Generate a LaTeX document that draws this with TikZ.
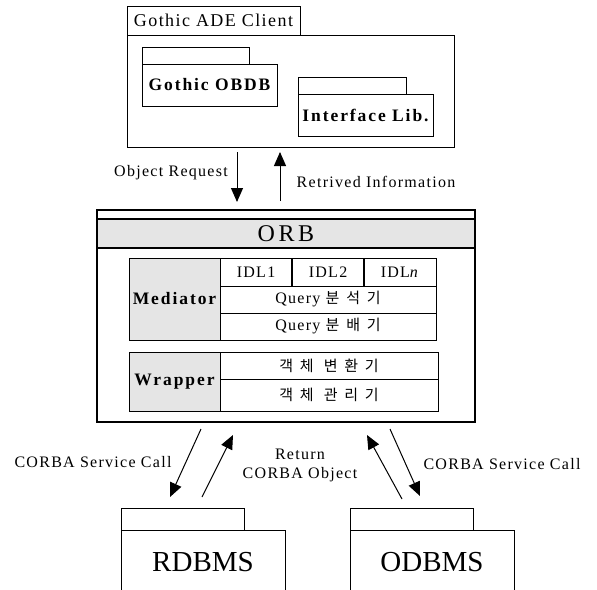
\documentclass[tikz,border=0pt]{standalone}
\usepackage{fontspec}
\setmainfont{Liberation Serif}
\newfontfamily\lsf{Liberation Serif}[LetterSpace=8]
\newfontfamily\lsb{Liberation Serif}[LetterSpace=11,BoldFont={Liberation Serif Bold}]
\newfontfamily\orbf{Liberation Serif}[LetterSpace=15]
\newfontfamily\krf{Noto Sans CJK KR}[LetterSpace=45]
\usetikzlibrary{arrows.meta}
\tikzset{
  box/.style={draw, line width=1pt, inner sep=0pt, outer sep=0pt, anchor=north west},
  lbl/.style={inner sep=0pt, font=\lsf\fontsize{16}{19}\selectfont},
  blbl/.style={font=\lsb\bfseries\fontsize{17.5}{20}\selectfont},
  big/.style={font=\fontsize{29}{32}\selectfont},
  kor/.style={font=\lsf\fontsize{16}{19}\selectfont},
  graybox/.style={box, fill=black!10},
  arr/.style={line width=1pt, -{Triangle[length=14pt,width=12pt]}}
}
\begin{document}
\begin{tikzpicture}[x=1pt,y=-1pt]
\useasboundingbox (0,0) rectangle (597,589);
% client package
\node[box, minimum width=173pt, minimum height=29pt, font=\lsf\fontsize{18}{20}\selectfont] (ctab) at (127,6) {Gothic ADE Client};
\node[box, minimum width=327pt, minimum height=112pt] (cbody) at (127,35) {};
\node[box, minimum width=107pt, minimum height=17pt] (otab) at (142,47) {};
\node[box, minimum width=135pt, minimum height=42pt, blbl] (obody) at (142,64) {Gothic OBDB};
\node[box, minimum width=108pt, minimum height=17pt] (itab) at (298,77) {};
\node[box, minimum width=135pt, minimum height=42pt, blbl] (ibody) at (298,94) {Interface Lib.};
% ORB
\node[box, line width=1.1pt, minimum width=378pt, minimum height=212pt] (orb) at (97,210) {};
\node[graybox, line width=1.1pt, minimum width=378pt, minimum height=29pt, font=\orbf\fontsize{24}{26}\selectfont] (orbband) at (97,219) {ORB};
% Mediator
\node[graybox, minimum width=91pt, minimum height=82pt, blbl] (med) at (129,258) {Mediator};
\node[box, minimum width=72pt, minimum height=28pt, lbl] (idl1) at (220,258) {IDL1};
\node[box, minimum width=72pt, minimum height=28pt, lbl] (idl2) at (292,258) {IDL2};
\node[box, minimum width=72pt, minimum height=28pt, lbl] (idln) at (364,258) {IDL\textit{n}};
\draw[line width=2pt] (idl1.north east) -- (idl1.south east);
\draw[line width=2pt] (idl2.north east) -- (idl2.south east);
\node[box, minimum width=216pt, minimum height=27pt, kor] (q1) at (220,286) {Query {\krf\fontsize{15}{18}\selectfont 분석기}};
\node[box, minimum width=216pt, minimum height=27pt, kor] (q2) at (220,313) {Query {\krf\fontsize{15}{18}\selectfont 분배기}};
% Wrapper
\node[graybox, minimum width=91pt, minimum height=59pt, blbl] (wrp) at (129,352) {Wrapper};
\node[box, minimum width=218pt, minimum height=27pt, kor] (w1) at (220,352) {{\krf\fontsize{15}{18}\selectfont 객체 변환기}};
\node[box, minimum width=218pt, minimum height=32pt, kor] (w2) at (220,379) {{\krf\fontsize{15}{18}\selectfont 객체 관리기}};
% DBMS packages
\node[box, minimum width=123pt, minimum height=22pt] (rtab) at (121,508) {};
\node[box, minimum width=164pt, minimum height=64pt, big] (rdb) at (121,530) {RDBMS};
\node[box, minimum width=123pt, minimum height=22pt] (otab2) at (350,508) {};
\node[box, minimum width=164pt, minimum height=64pt, big] (odb) at (350,530) {ODBMS};
% top arrows
\coordinate (t1s) at (237,152); \coordinate (t1e) at (237,202);
\coordinate (t2s) at (280,201); \coordinate (t2e) at (280,152);
\draw[arr] (t1s) -- (t1e);
\draw[arr] (t2s) -- (t2e);
\node[lbl] (objreq) at (171,173) {Object Request};
\node[lbl] (retinf) at (376,182) {Retrived Information};
% bottom arrows
\coordinate (b1s) at (201,429); \coordinate (b1e) at (170,497);
\coordinate (b2s) at (202,497); \coordinate (b2e) at (233,435);
\coordinate (b3s) at (402,499); \coordinate (b3e) at (367,435);
\coordinate (b4s) at (390,429); \coordinate (b4e) at (420,496);
\draw[arr] (b1s) -- (b1e);
\draw[arr] (b2s) -- (b2e);
\draw[arr] (b3s) -- (b3e);
\draw[arr] (b4s) -- (b4e);
\node[lbl] (csc1) at (93,462) {CORBA Service Call};
\node[lbl, align=center] (ret) at (300,465) {Return\\CORBA Object};
\node[lbl] (csc2) at (502,464) {CORBA Service Call};
\end{tikzpicture}
\end{document}
